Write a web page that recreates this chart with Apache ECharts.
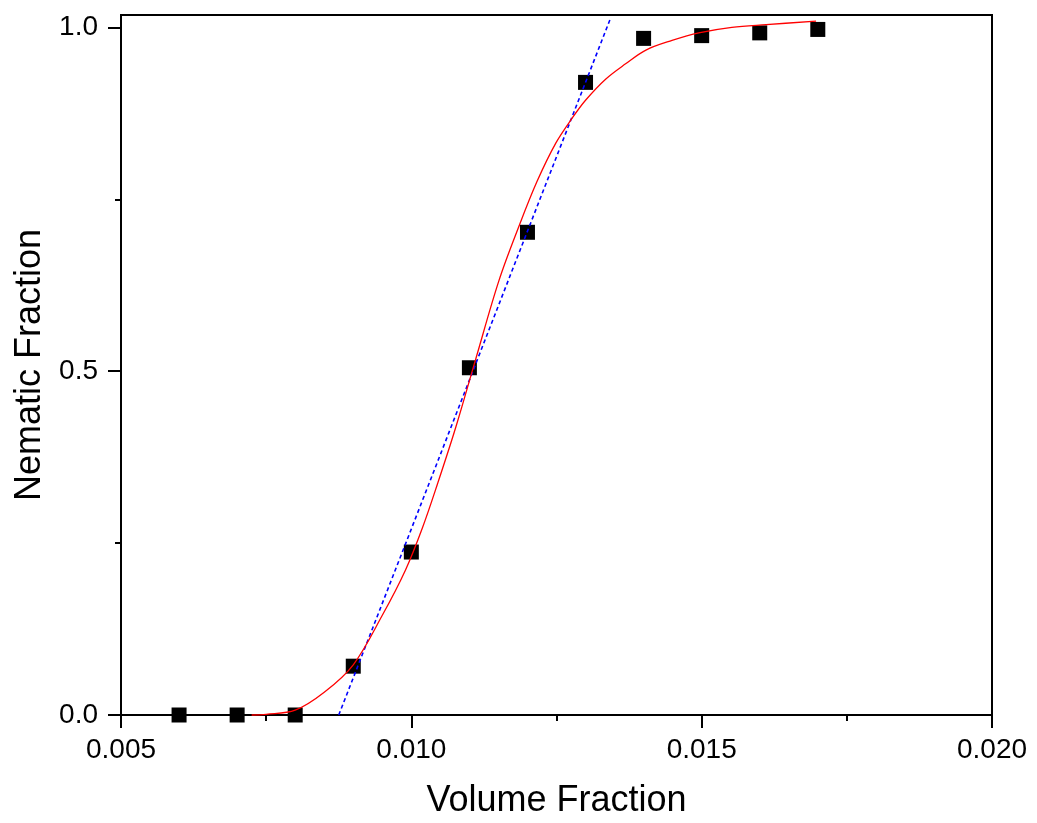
<!DOCTYPE html>
<html>
<head>
<meta charset="utf-8">
<script src="https://cdn.jsdelivr.net/npm/echarts@6/dist/echarts.min.js"></script>
<style>
  html, body { margin: 0; padding: 0; background: #fff; }
  #chart { width: 1037px; height: 823px; }
</style>
</head>
<body>
<div id="chart"></div>
<script>
// measured points
const volFrac = [0.006, 0.007, 0.008, 0.009, 0.010, 0.011, 0.012, 0.013, 0.014, 0.015, 0.016, 0.017];
const nematic = [0, 0, 0, 0.071, 0.237, 0.505, 0.702, 0.920, 0.984, 0.988, 0.992, 0.997];

// red fitted curve
const fitX = [0.00725, 0.0075, 0.0080, 0.0085, 0.0090, 0.0095, 0.0099, 0.01019, 0.01045, 0.01076,
  0.01111, 0.01151, 0.01185, 0.01216, 0.01249, 0.01277, 0.0130, 0.01335, 0.01369, 0.01404,
  0.01449, 0.01495, 0.01552, 0.01611, 0.01697];
const fitY = [0, 0.001, 0.007, 0.033, 0.073, 0.145, 0.211, 0.272, 0.336, 0.417,
  0.518, 0.632, 0.710, 0.775, 0.832, 0.868, 0.894, 0.925, 0.947, 0.967,
  0.981, 0.992, 1.000, 1.004, 1.009];

// blue dashed linear fit
const lineX = [0.00875, 0.01342];
const lineY = [0, 1.011];

const yMajor = [0, 0.5, 1.0];
const yMinor = [0.25, 0.75];

const font = "'Liberation Sans', Arial, sans-serif";
const zip = (xs, ys) => xs.map((x, i) => [x, ys[i]]);

const chart = echarts.init(document.getElementById("chart"), null, { renderer: "canvas" });

chart.setOption({
  animation: false,
  grid: {
    left: 121, right: 45, top: 15, bottom: 108,
    outerBoundsMode: "none",
    containLabel: false,
    show: true, borderColor: "#000", borderWidth: 2
  },
  xAxis: {
    type: "value",
    min: 0.005, max: 0.020, interval: 0.005,
    name: "Volume Fraction",
    nameLocation: "middle",
    nameGap: 68,
    nameTextStyle: { fontFamily: font, fontSize: 36, color: "#000" },
    axisLine: { lineStyle: { color: "#000", width: 2 } },
    axisTick: { length: 13, lineStyle: { color: "#000", width: 2 } },
    minorTick: { show: true, splitNumber: 2, length: 6, lineStyle: { color: "#000", width: 2 } },
    splitLine: { show: false },
    minorSplitLine: { show: false },
    axisLabel: {
      margin: 21, fontFamily: font, fontSize: 28, color: "#000",
      formatter: v => v.toFixed(3)
    }
  },
  yAxis: [{
    type: "value",
    min: 0, max: 1.018,
    name: "Nematic Fraction",
    nameLocation: "middle",
    nameGap: 72,
    nameTextStyle: { fontFamily: font, fontSize: 36, color: "#000" },
    axisLine: { lineStyle: { color: "#000", width: 2 } },
    axisTick: { length: 13, customValues: yMajor, lineStyle: { color: "#000", width: 2 } },
    splitLine: { show: false },
    axisLabel: {
      margin: 23, fontFamily: font, fontSize: 28, color: "#000",
      customValues: yMajor,
      formatter: v => v.toFixed(1)
    }
  }, {
    type: "value",
    position: "left",
    min: 0, max: 1.018,
    axisLine: { show: false },
    axisTick: { length: 6, customValues: yMinor, lineStyle: { color: "#000", width: 2 } },
    axisLabel: { show: false },
    splitLine: { show: false }
  }],
  series: [
    {
      type: "scatter",
      data: zip(volFrac, nematic),
      symbol: "rect",
      symbolSize: 15,
      itemStyle: { color: "#000", opacity: 1 },
      z: 1
    },
    {
      type: "line",
      data: zip(fitX, fitY),
      smooth: 0.35,
      showSymbol: false,
      clip: false,
      lineStyle: { color: "#ff0000", width: 1.3 },
      z: 3
    },
    {
      type: "line",
      data: zip(lineX, lineY),
      showSymbol: false,
      clip: false,
      lineStyle: { color: "#0000ff", width: 1.6, type: [4, 3] },
      z: 2
    }
  ]
});
</script>
</body>
</html>
